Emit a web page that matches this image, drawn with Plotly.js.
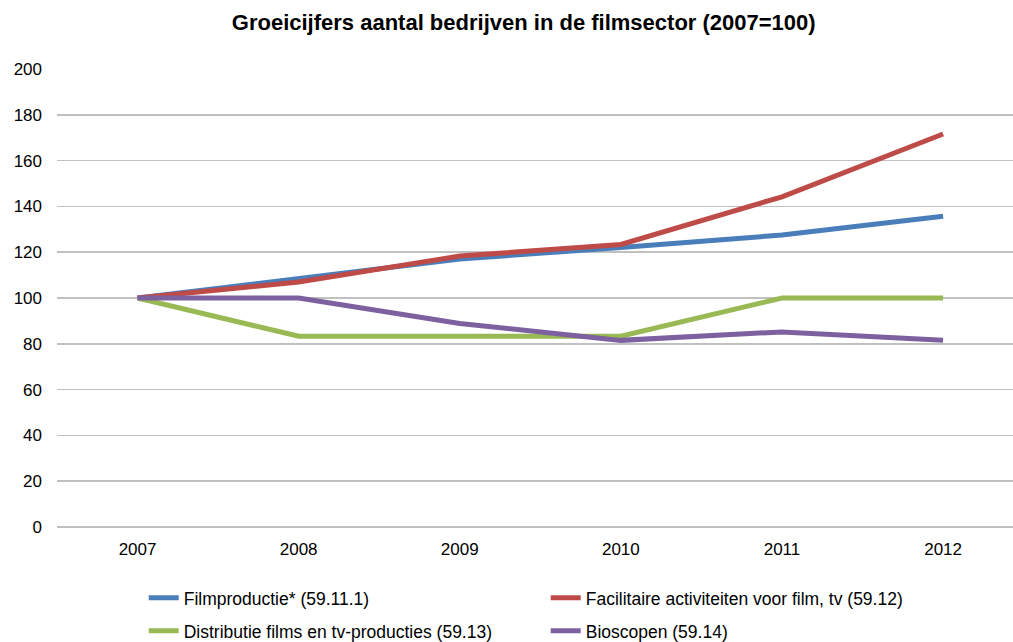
<!DOCTYPE html>
<html>
<head>
<meta charset="utf-8">
<script src="https://cdn.plot.ly/plotly-3.0.1.min.js"></script>
<style>html,body{margin:0;padding:0;background:#fff;}#chart{width:1013px;height:642px;}</style>
</head>
<body>
<div id="chart"></div>
<script>
const years = ['2007', '2008', '2009', '2010', '2011', '2012'];
const filmproductie = [100, 108.3, 117.0, 122.1, 127.5, 135.7];
const facilitaire = [100, 107.0, 118.3, 123.4, 144.2, 171.6];
const distributie = [100, 83.3, 83.3, 83.3, 100, 100];
const bioscopen = [100, 100, 88.9, 81.5, 85.2, 81.5];
const seriesNames = [
  'Filmproductie* (59.11.1)',
  'Facilitaire activiteiten voor film, tv (59.12)',
  'Distributie films en tv-producties (59.13)',
  'Bioscopen (59.14)'
];
const colors = ['#4A7EBB', '#BE4B48', '#98B954', '#7D60A0'];
const legendOf = ['legend', 'legend', 'legend2', 'legend2'];
const yTicks = [0, 20, 40, 60, 80, 100, 120, 140, 160, 180, 200];

const data = [filmproductie, facilitaire, distributie, bioscopen].map((vals, i) => ({
  type: 'scatter',
  mode: 'lines',
  x: years.map((_, k) => k),
  y: vals,
  name: seriesNames[i],
  legend: legendOf[i],
  line: {color: colors[i], width: 5},
  hoverinfo: 'skip'
}));

const legendBase = {
  orientation: 'h',
  x: 0.0907, xanchor: 'left',
  yanchor: 'middle',
  entrywidth: 357,
  entrywidthmode: 'pixels',
  font: {size: 17.5, color: '#000'},
  traceorder: 'normal',
  bgcolor: 'rgba(0,0,0,0)'
};

const layout = {
  width: 1013,
  height: 642,
  paper_bgcolor: '#fff',
  plot_bgcolor: '#fff',
  font: {family: 'Liberation Sans, Arial, sans-serif', size: 17, color: '#000'},
  title: {
    text: '<b>Groeicijfers aantal bedrijven in de filmsector (2007=100)</b>',
    font: {size: 22, color: '#000'},
    x: 0.517, xanchor: 'center', y: 0.965, yanchor: 'middle'
  },
  margin: {l: 57, r: 0, t: 69, b: 115, autoexpand: false},
  xaxis: {
    range: [-0.5, 5.434],
    tickmode: 'array',
    tickvals: years.map((_, k) => k),
    ticktext: years,
    showgrid: false,
    zeroline: false,
    showline: false,
    ticks: '',
    ticklabelstandoff: 10,
    fixedrange: true
  },
  yaxis: {
    range: [0, 200],
    tickmode: 'array',
    tickvals: yTicks,
    ticktext: yTicks.map(String),
    showgrid: true,
    gridcolor: '#C0C0C0',
    gridwidth: 1.5,
    zeroline: true,
    zerolinecolor: '#C0C0C0',
    zerolinewidth: 1.5,
    showline: false,
    ticks: '',
    ticklabelstandoff: 14,
    fixedrange: true
  },
  showlegend: true,
  legend: Object.assign({}, legendBase, {y: -0.155}),
  legend2: Object.assign({}, legendBase, {y: -0.227})
};

Plotly.newPlot('chart', data, layout, {displayModeBar: false, staticPlot: true});
</script>
</body>
</html>
